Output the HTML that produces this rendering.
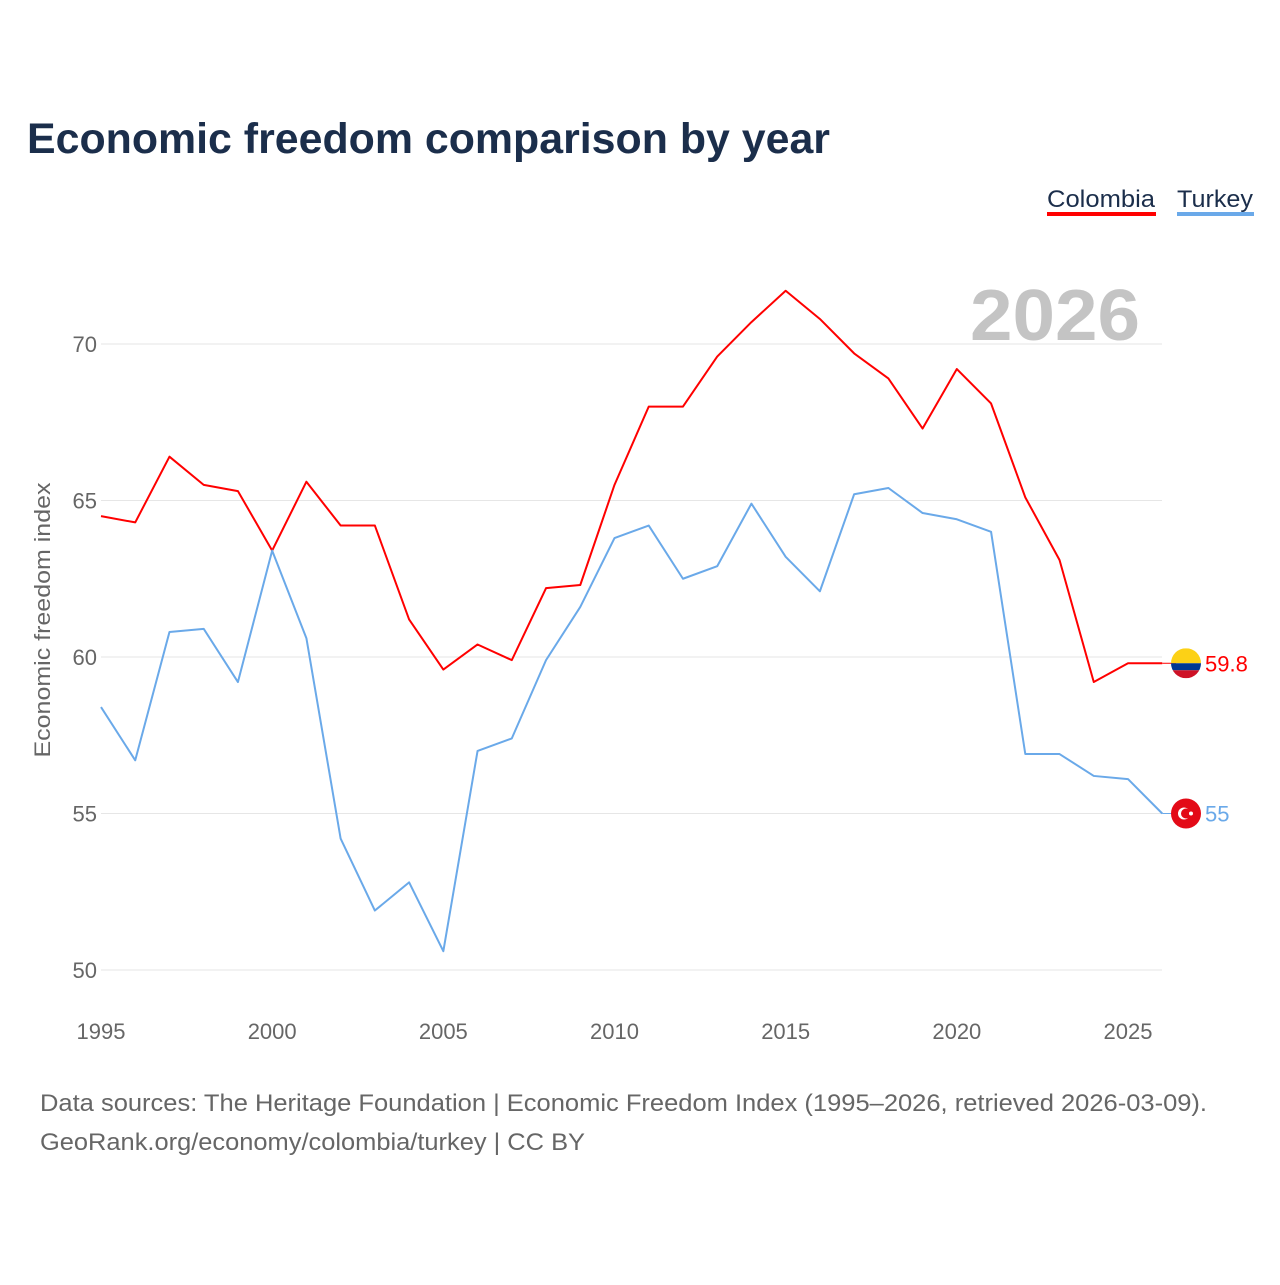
<!DOCTYPE html>
<html><head><meta charset="utf-8"><style>
body{margin:0;background:#fff;font-family:"Liberation Sans",sans-serif;}
</style></head><body>
<svg id="chart" width="1280" height="1280" xmlns="http://www.w3.org/2000/svg">
<rect width="1280" height="1280" fill="#fff"/>
<text x="27" y="153" font-size="43" font-weight="bold" fill="#1b2e4b" textLength="803" lengthAdjust="spacingAndGlyphs">Economic freedom comparison by year</text>
<g>
<text x="1047" y="207" font-size="24" fill="#1b2e4b" textLength="108" lengthAdjust="spacingAndGlyphs">Colombia</text>
<rect x="1047" y="212" width="109" height="4" fill="#f00"/>
<text x="1177" y="207" font-size="24" fill="#1b2e4b" textLength="76" lengthAdjust="spacingAndGlyphs">Turkey</text>
<rect x="1177" y="212" width="77" height="4" fill="#6aa9e9"/>
</g>
<text x="1140" y="340" font-size="72" font-weight="bold" fill="#c4c4c4" text-anchor="end" textLength="170" lengthAdjust="spacingAndGlyphs">2026</text>
<g id="grid"></g><g id="xt"></g><g id="series"></g>
<text transform="translate(50,620) rotate(-90)" font-size="22" fill="#666" text-anchor="middle" textLength="275" lengthAdjust="spacingAndGlyphs">Economic freedom index</text>
<text x="40" y="1111" font-size="24" fill="#666" textLength="1167" lengthAdjust="spacingAndGlyphs">Data sources: The Heritage Foundation | Economic Freedom Index (1995–2026, retrieved 2026-03-09).</text>
<text x="40" y="1150" font-size="24" fill="#666" textLength="545" lengthAdjust="spacingAndGlyphs">GeoRank.org/economy/colombia/turkey | CC BY</text>
</svg>
<script>
const years=[];for(let y=1995;y<=2026;y++)years.push(y);
const colombia=[64.5,64.3,66.4,65.5,65.3,63.4,65.6,64.2,64.2,61.2,59.6,60.4,59.9,62.2,62.3,65.5,68.0,68.0,69.6,70.7,71.7,70.8,69.7,68.9,67.3,69.2,68.1,65.1,63.1,59.2,59.8,59.8];
const turkey=[58.4,56.7,60.8,60.9,59.2,63.4,60.6,54.2,51.9,52.8,50.6,57.0,57.4,59.9,61.6,63.8,64.2,62.5,62.9,64.9,63.2,62.1,65.2,65.4,64.6,64.4,64.0,56.9,56.9,56.2,56.1,55.0];
const yTicks=[50,55,60,65,70];
const xTicks=[1995,2000,2005,2010,2015,2020,2025];
const NS="http://www.w3.org/2000/svg";
const x=v=>101+(v-1995)*(1128-101)/30;
const y=v=>970-(v-50)*(970-344)/20;
function mk(t,a,p){const e=document.createElementNS(NS,t);for(const k in a)e.setAttribute(k,a[k]);p.appendChild(e);return e;}
const g=document.getElementById('grid');
yTicks.forEach(v=>{
 const l=mk('line',{x1:101,x2:1162,y1:y(v),y2:y(v),stroke:'#e6e6e6','stroke-width':1},g);
 
 
 const t=mk('text',{x:97,y:y(v)+8,'font-size':22,fill:'#666','text-anchor':'end'},g);t.textContent=v;
 
 
});
const xt=document.getElementById('xt');
xTicks.forEach(v=>{
 const t=mk('text',{x:x(v),y:1039,'font-size':22,fill:'#666','text-anchor':'middle'},xt);t.textContent=v;
 
 
});
const s=document.getElementById('series');
function line(data,col,name){
 const p=mk('polyline',{points:data.map((v,i)=>x(years[i])+','+y(v)).join(' '),fill:'none',stroke:col,'stroke-width':2,'stroke-linejoin':'round'},s);
 
 
 const last=data[data.length-1],ly=y(last);
 mk('line',{x1:x(2026),x2:1176,y1:ly,y2:ly,stroke:col,'stroke-width':1},s);
 const t=mk('text',{x:1205,y:ly+8,'font-size':22,fill:col},s);t.textContent=last;
 
 
 return ly;
}
const cy=line(colombia,'#ff0000','colombia');
const ty=line(turkey,'#6aa9e9','turkey');
const fc=mk('g',{},s);


const cp=mk('clipPath',{id:'cc'},fc);
mk('circle',{cx:1186,cy:cy,r:15},cp);
const cg=mk('g',{'clip-path':'url(#cc)'},fc);
mk('rect',{x:1171,y:cy-15,width:30,height:15,fill:'#fcd116'},cg);
mk('rect',{x:1171,y:cy,width:30,height:7,fill:'#003893'},cg);
mk('rect',{x:1171,y:cy+7,width:30,height:8,fill:'#ce1126'},cg);
const ft=mk('g',{},s);


mk('circle',{cx:1186,cy:ty,r:15,fill:'#e30a17'},ft);
mk('circle',{cx:1184,cy:ty,r:6,fill:'#fff'},ft);
mk('circle',{cx:1186,cy:ty,r:5,fill:'#e30a17'},ft);
mk('circle',{cx:1191,cy:ty,r:2,fill:'#fff'},ft);
</script>
</body></html>
